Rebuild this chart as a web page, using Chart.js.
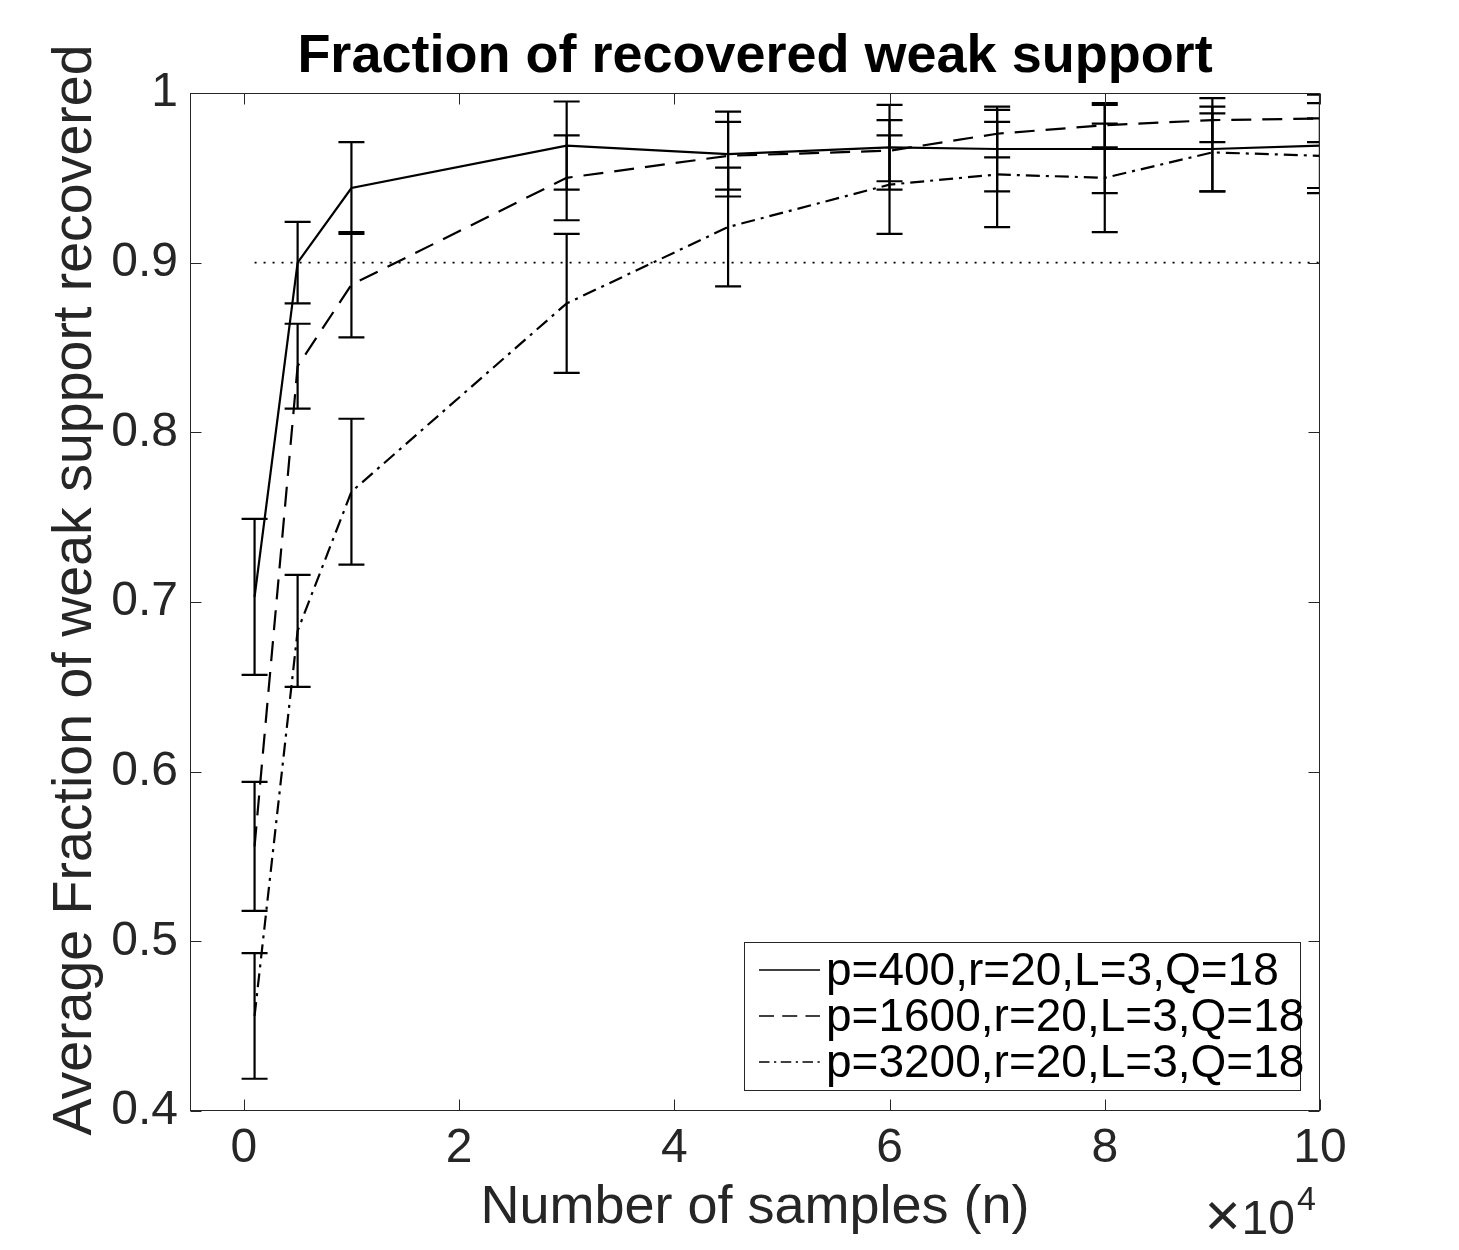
<!DOCTYPE html>
<html>
<head>
<meta charset="utf-8">
<script src="https://cdn.jsdelivr.net/npm/chart.js@4/dist/chart.umd.min.js"></script>
<style>
  html, body { margin: 0; padding: 0; background: #ffffff; }
  #wrap { width: 1459px; height: 1250px; position: relative; }
</style>
</head>
<body>
<div id="wrap"><canvas id="c" width="1459" height="1250"></canvas></div>
<script>
// ---------- data (x in units of 10^4 samples) ----------
const samplesX = [0.1, 0.5, 1, 3, 4.5, 6, 7, 8, 9, 10];

const meanP400  = [0.703, 0.900, 0.944, 0.969, 0.964, 0.968, 0.967, 0.967, 0.967, 0.969];
const errP400   = [0.046, 0.024, 0.027, 0.026, 0.025, 0.025, 0.025, 0.026, 0.025, 0.025];

const meanP1600 = [0.556, 0.839, 0.887, 0.950, 0.963, 0.966, 0.976, 0.981, 0.984, 0.985];
const errP1600  = [0.038, 0.025, 0.031, 0.025, 0.020, 0.018, 0.014, 0.013, 0.013, 0.014];

const meanP3200 = [0.456, 0.683, 0.765, 0.876, 0.921, 0.946, 0.952, 0.950, 0.965, 0.963];
const errP3200  = [0.037, 0.033, 0.043, 0.041, 0.035, 0.029, 0.031, 0.032, 0.023, 0.022];

const thresholdX = [0.1, 10];
const thresholdY = [0.9, 0.9];

const seriesLabels = ['p=400,r=20,L=3,Q=18', 'p=1600,r=20,L=3,Q=18', 'p=3200,r=20,L=3,Q=18'];

const xTickValues = [0, 2, 4, 6, 8, 10];
const xTickLabels = ['0', '2', '4', '6', '8', '10'];
const yTickValues = [0.4, 0.5, 0.6, 0.7, 0.8, 0.9, 1.0];
const yTickLabels = ['0.4', '0.5', '0.6', '0.7', '0.8', '0.9', '1'];

const titleText = 'Fraction of recovered weak support';
const xTitle = 'Number of samples (n)';
const yTitle = 'Average Fraction of weak support recovered';
const xExponent = '4';

// ---------- styling ----------
const FONT = '"Liberation Sans", Arial, Helvetica, sans-serif';
const AXIS_COLOR = '#262626';

function pts(xs, ys) { return xs.map((x, i) => ({ x: x, y: ys[i] })); }

const datasets = [
  { label: seriesLabels[0], data: pts(samplesX, meanP400), errors: errP400,
    borderColor: '#000', borderWidth: 2.2, borderDash: [], pointRadius: 0, fill: false, tension: 0 },
  { label: seriesLabels[1], data: pts(samplesX, meanP1600), errors: errP1600,
    borderColor: '#000', borderWidth: 2.2, borderDash: [20, 11], pointRadius: 0, fill: false, tension: 0 },
  { label: seriesLabels[2], data: pts(samplesX, meanP3200), errors: errP3200,
    borderColor: '#000', borderWidth: 2.2, borderDash: [14, 6, 3, 6], pointRadius: 0, fill: false, tension: 0 },
  { label: 'threshold', data: pts(thresholdX, thresholdY), inLegend: false,
    borderColor: '#000', borderWidth: 1.8, borderDash: [2, 7], pointRadius: 0, fill: false, tension: 0 }
];

// error bars, clipped to the plot area
const errorBarPlugin = {
  id: 'errorBars',
  afterDatasetsDraw(chart) {
    const { ctx, chartArea, scales } = chart;
    const xs = scales.x, ys = scales.y;
    ctx.save();
    ctx.beginPath();
    ctx.rect(chartArea.left, chartArea.top, chartArea.right - chartArea.left, chartArea.bottom - chartArea.top);
    ctx.clip();
    ctx.strokeStyle = '#000';
    ctx.lineWidth = 2.2;
    ctx.setLineDash([]);
    const cap = 13;
    chart.data.datasets.forEach((ds) => {
      if (!ds.errors) return;
      ds.data.forEach((p, i) => {
        const e = ds.errors[i];
        const px = xs.getPixelForValue(p.x);
        const yt = ys.getPixelForValue(p.y + e);
        const yb = ys.getPixelForValue(p.y - e);
        ctx.beginPath();
        ctx.moveTo(px, yt); ctx.lineTo(px, yb);
        ctx.moveTo(px - cap, yt); ctx.lineTo(px + cap, yt);
        ctx.moveTo(px - cap, yb); ctx.lineTo(px + cap, yb);
        ctx.stroke();
      });
    });
    ctx.restore();
  }
};

// box around plot + inward tick marks on all four sides, y title, legend, exponent
const frameAndLegendPlugin = {
  id: 'frameLegend',
  afterDraw(chart) {
    const { ctx, chartArea: a, scales } = chart;
    const L = Math.round(a.left) + 0.5, R = Math.round(a.right) - 0.5;
    const T = Math.round(a.top) + 0.5, B = Math.round(a.bottom) - 0.5;
    ctx.save();
    ctx.strokeStyle = AXIS_COLOR;
    ctx.lineWidth = 1;
    ctx.setLineDash([]);
    ctx.strokeRect(L, T, R - L, B - T);
    const tl = 11;
    ctx.beginPath();
    scales.x.ticks.forEach(t => {
      const px = Math.round(scales.x.getPixelForValue(t.value)) + 0.5;
      ctx.moveTo(px, B); ctx.lineTo(px, B - tl);
      ctx.moveTo(px, T); ctx.lineTo(px, T + tl);
    });
    scales.y.ticks.forEach(t => {
      const py = Math.round(scales.y.getPixelForValue(t.value)) + 0.5;
      ctx.moveTo(L, py); ctx.lineTo(L + tl, py);
      ctx.moveTo(R, py); ctx.lineTo(R - tl, py);
    });
    ctx.stroke();

    // y axis title (rotated)
    ctx.save();
    ctx.fillStyle = AXIS_COLOR;
    ctx.font = '55.5px ' + FONT;
    ctx.textAlign = 'center';
    ctx.textBaseline = 'middle';
    ctx.translate(a.left - 114, (a.top + a.bottom) / 2 - 12);
    ctx.rotate(-Math.PI / 2);
    ctx.fillText(yTitle, 0, 0);
    ctx.restore();

    // x10^4 exponent label
    ctx.fillStyle = AXIS_COLOR;
    ctx.textBaseline = 'alphabetic';
    ctx.textAlign = 'right';
    ctx.font = '48px ' + FONT;
    ctx.fillText('10', a.right - 25, a.bottom + 123);
    const w10 = ctx.measureText('10').width;
    ctx.font = '62px ' + FONT;
    ctx.fillText('\u00d7', a.right - 25 - w10 - 1, a.bottom + 125);
    ctx.textAlign = 'left';
    ctx.font = '34px ' + FONT;
    ctx.fillText(xExponent, a.right - 23, a.bottom + 99);

    // legend
    const boxL = a.right - 576, boxT = a.bottom - 169, boxW = 556, boxH = 148;
    ctx.fillStyle = '#fff';
    ctx.fillRect(boxL, boxT, boxW, boxH);
    ctx.strokeStyle = AXIS_COLOR;
    ctx.lineWidth = 1;
    ctx.strokeRect(Math.round(boxL) + 0.5, Math.round(boxT) + 0.5, boxW, boxH);
    ctx.font = '46px ' + FONT;
    ctx.textAlign = 'left';
    ctx.textBaseline = 'middle';
    let row = 0;
    chart.data.datasets.forEach(ds => {
      if (ds.inLegend === false) return;
      const cy = boxT + 28 + row * 46;
      ctx.strokeStyle = '#000';
      ctx.lineWidth = 1.6;
      ctx.setLineDash(ds.borderDash.length ? ds.borderDash.map(v => v * 0.75) : []);
      ctx.beginPath();
      ctx.moveTo(boxL + 15, cy); ctx.lineTo(boxL + 76, cy);
      ctx.stroke();
      ctx.setLineDash([]);
      ctx.fillStyle = '#000';
      ctx.fillText(ds.label, boxL + 82, cy + 2);
      row++;
    });
    ctx.restore();
  }
};

new Chart(document.getElementById('c'), {
  type: 'line',
  data: { datasets: datasets },
  options: {
    responsive: false,
    animation: false,
    devicePixelRatio: 1,
    layout: { padding: { left: 0, right: 139, top: 0, bottom: 0 } },
    plugins: {
      legend: { display: false },
      tooltip: { enabled: false },
      title: {
        display: true,
        text: titleText,
        fullSize: false,
        color: '#000',
        font: { family: FONT, size: 54, weight: 'bold', lineHeight: 1.2 },
        padding: { top: 25, bottom: 3.2 }
      }
    },
    scales: {
      x: {
        type: 'linear',
        min: -0.5, max: 10,
        grid: { display: false, drawTicks: false },
        border: { display: false },
        afterFit: (s) => { s.height = 139; },
        afterBuildTicks: (s) => { s.ticks = xTickValues.map(v => ({ value: v })); },
        ticks: {
          padding: 9,
          color: AXIS_COLOR,
          font: { family: FONT, size: 48 },
          maxRotation: 0,
          autoSkip: false,
          callback: (v) => { const i = xTickValues.indexOf(v); return i >= 0 ? xTickLabels[i] : ''; }
        },
        title: {
          display: true, text: xTitle, color: AXIS_COLOR,
          font: { family: FONT, size: 54, lineHeight: 1.2 },
          padding: { top: 0, bottom: 9 }
        }
      },
      y: {
        type: 'linear',
        min: 0.4, max: 1.0,
        grid: { display: false, drawTicks: false },
        border: { display: false },
        afterFit: (s) => { s.width = 190; },
        afterBuildTicks: (s) => { s.ticks = yTickValues.map(v => ({ value: v })); },
        ticks: {
          padding: 12,
          color: AXIS_COLOR,
          font: { family: FONT, size: 48 },
          autoSkip: false,
          callback: (v) => {
            const i = yTickValues.findIndex(t => Math.abs(t - v) < 1e-9);
            return i >= 0 ? yTickLabels[i] : '';
          }
        },
        title: { display: false }
      }
    }
  },
  plugins: [errorBarPlugin, frameAndLegendPlugin]
});
</script>
</body>
</html>
